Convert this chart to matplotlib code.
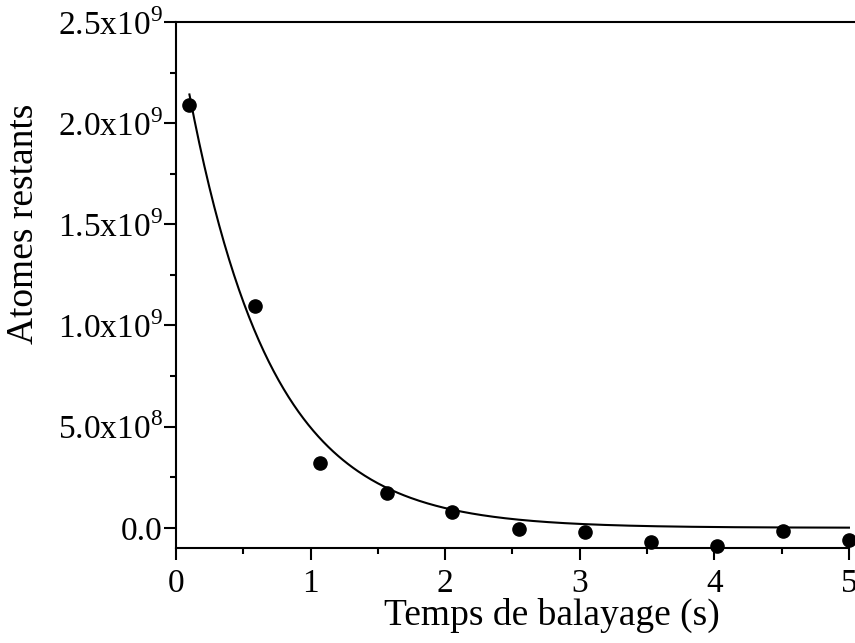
import numpy as np
import matplotlib
matplotlib.use("Agg")
import matplotlib.pyplot as plt
from matplotlib.ticker import MultipleLocator, FuncFormatter

plt.rcParams["font.family"] = ["Liberation Serif", "DejaVu Serif"]
plt.rcParams["mathtext.fontset"] = "custom"
plt.rcParams["mathtext.rm"] = "Liberation Serif"

# measured remaining atoms vs sweep time
temps = [0.10, 0.59, 1.07, 1.57, 2.05, 2.55, 3.04, 3.53, 4.02, 4.51, 5.00]
atomes = [2.09e9, 1.095e9, 0.322e9, 0.173e9, 0.080e9, -0.005e9,
          -0.020e9, -0.070e9, -0.090e9, -0.015e9, -0.060e9]

# exponential decay fit: y = y0 + A * exp(-t / tau)
fit_A = 2.52e9
fit_tau = 0.615
fit_y0 = 0.0
fit_range = (0.10, 5.0)


def sci_label(v, pos):
    if abs(v) < 1:
        return "0.0"
    e = int(np.floor(np.log10(abs(v))))
    m = v / 10 ** e
    return r"%.1fx10$^{%d}$" % (m, e)


fig = plt.figure(figsize=(8.55, 6.43), dpi=100)
ax = fig.add_axes([0.2058, 0.1477, 1.0 - 0.2058, 0.9658 - 0.1477])

t_fit = np.linspace(fit_range[0], fit_range[1], 400)
ax.plot(t_fit, fit_y0 + fit_A * np.exp(-t_fit / fit_tau), color="black", lw=1.5)
ax.plot(temps, atomes, "o", color="black", ms=9.5, clip_on=False, zorder=3)

ax.set_xlim(0, 5.045)
ax.set_ylim(-1.0e8, 2.5e9)
ax.spines["right"].set_visible(False)
ax.spines["bottom"].set_bounds(0, 5)
for s in ("left", "bottom", "top"):
    ax.spines[s].set_linewidth(1.5)

ax.xaxis.set_major_locator(MultipleLocator(1))
ax.xaxis.set_minor_locator(MultipleLocator(0.5))
ax.yaxis.set_major_locator(MultipleLocator(5e8))
ax.yaxis.set_minor_locator(MultipleLocator(2.5e8))
ax.yaxis.set_major_formatter(FuncFormatter(sci_label))
ax.set_xticks([0, 1, 2, 3, 4, 5])

ax.tick_params(which="major", direction="out", length=8.5, width=1.5, labelsize=24, pad=6)
ax.tick_params(which="minor", direction="out", length=4, width=1.5)
ax.tick_params(axis="y", which="major", pad=1)

# axis titles placed in figure coordinates
fig.text(552 / 855, 1 - 615 / 643, "Temps de balayage (s)", fontsize=27,
         ha="center", va="center")
fig.text(24 / 855, 1 - 224 / 643, "Atomes restants", fontsize=27,
         ha="center", va="center", rotation=90)

fig.savefig("out.png", dpi=100)
